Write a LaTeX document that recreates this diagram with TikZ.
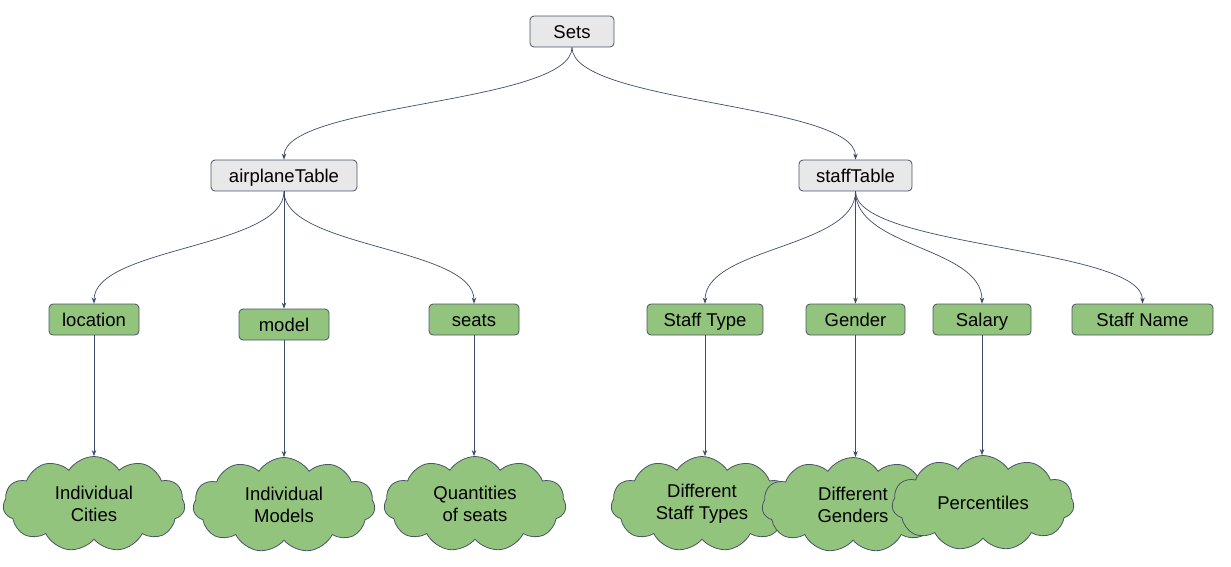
\documentclass[tikz,border=0pt]{standalone}
\usepackage{fontspec}
\setmainfont{Liberation Sans}
\usepackage{tikz}
\usetikzlibrary{arrows.meta,shapes.symbols}

\definecolor{setgray}{HTML}{E8E8E8}
\definecolor{setgreen}{HTML}{93C47D}
\definecolor{edgeline}{HTML}{4A5468}
\definecolor{linkline}{HTML}{3E4C6A}

\begin{document}
\begin{tikzpicture}[x=1pt,y=1pt,
        font=\fontsize{18.5}{22}\selectfont,
        tablebox/.style={draw=edgeline,fill=setgray,rounded corners=4pt,minimum height=31pt,inner sep=0pt,
                         text height=13pt,text depth=0pt,line width=0.8pt},
        setbox/.style={draw=edgeline,fill=setgreen,rounded corners=4pt,minimum height=31pt,inner sep=0pt,
                       text height=13pt,text depth=0pt,line width=0.8pt},
        valcloud/.style={cloud,cloud puffs=11,cloud puff arc=115,cloud ignores aspect,draw=edgeline,fill=setgreen,
                         line width=0.8pt,minimum width=182pt,minimum height=95pt,inner sep=0pt,
                         label={[align=center]center:#1}},
        link/.style={draw=linkline,line width=0.7pt,-{Stealth[length=6pt,width=4.5pt]}}]
        % fix the page size
        \useasboundingbox (0,0) rectangle (1231,-566);

        % the tables
        \node[tablebox,minimum width=84pt]  (sets)     at (572,-31.5)   {Sets};
        \node[tablebox,minimum width=146pt] (airplane) at (284,-175.5)  {airplaneTable};
        \node[tablebox,minimum width=113pt] (staff)    at (855.5,-175.5) {staffTable};

        % the sets of each table
        \node[setbox,minimum width=90pt]  (location)  at (94,-319.5)    {location};
        \node[setbox,minimum width=90pt]  (model)     at (284,-324.5)   {model};
        \node[setbox,minimum width=90pt]  (seats)     at (474,-319.5)   {seats};
        \node[setbox,minimum width=116pt] (stafftype) at (705,-319.5)   {Staff Type};
        \node[setbox,minimum width=99pt]  (gender)    at (855.5,-319.5) {Gender};
        \node[setbox,minimum width=98pt]  (salary)    at (982,-319.5)   {Salary};
        \node[setbox,minimum width=141pt] (staffname) at (1142.5,-319.5) {Staff Name};

        % the values, later clouds lie over earlier ones
        \node[valcloud={Individual\\Cities}]      (cities)      at (94,-504)  {};
        \node[valcloud={Individual\\Models}]      (models)      at (284,-505) {};
        \node[valcloud={Quantities\\of seats}]    (quantities)  at (475,-504) {};
        \node[valcloud={Different\\Staff Types}]  (stafftypes)  at (702,-504) {};
        \node[valcloud={Different\\Genders}]      (genders)     at (853,-505) {};
        \node[valcloud={Percentiles}]             (percentiles) at (983,-503) {};

        % connectors between the tables
        \draw[link] (sets.south) .. controls +(0,-56.5) and +(0,56.5) .. (airplane.north);
        \draw[link] (sets.south) .. controls +(0,-56.5) and +(0,56.5) .. (staff.north);

        \draw[link] (airplane.south) .. controls +(0,-56.5) and +(0,56.5) .. (location.north);
        \draw[link] (airplane.south) -- (model.north);
        \draw[link] (airplane.south) .. controls +(0,-56.5) and +(0,56.5) .. (seats.north);

        \draw[link] (staff.south) .. controls +(0,-56.5) and +(0,56.5) .. (stafftype.north);
        \draw[link] (staff.south) -- (gender.north);
        \draw[link] (staff.south) .. controls +(0,-56.5) and +(0,56.5) .. (salary.north);
        \draw[link] (staff.south) .. controls +(0,-56.5) and +(0,56.5) .. (staffname.north);

        % connectors down to the values
        \foreach \a/\b in {location/cities,model/models,seats/quantities,stafftype/stafftypes,gender/genders,salary/percentiles}
                \draw[link] (\a.south) -- (\a.south |- \b.north);
\end{tikzpicture}
\end{document}
